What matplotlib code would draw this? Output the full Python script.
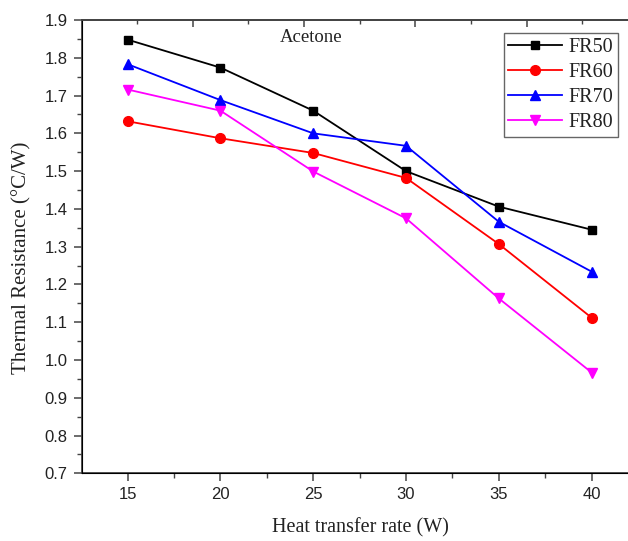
import numpy as np
import matplotlib
matplotlib.use('Agg')
import matplotlib.pyplot as plt
from matplotlib.ticker import MultipleLocator, FixedLocator, NullFormatter

# Heat transfer rate (W) vs thermal resistance (C/W), acetone, several fill ratios
heat_rate = [15, 20, 25, 30, 35, 40]
fr50 = [1.848, 1.774, 1.660, 1.500, 1.406, 1.345]
fr60 = [1.632, 1.587, 1.548, 1.482, 1.307, 1.112]
fr70 = [1.783, 1.688, 1.600, 1.567, 1.366, 1.234]
fr80 = [1.716, 1.660, 1.499, 1.375, 1.163, 0.967]
series_labels = ['FR50', 'FR60', 'FR70', 'FR80']

serif = 'Liberation Serif'
sans = 'Liberation Sans'

fig = plt.figure(figsize=(6.28, 5.41), dpi=100)
ax = fig.add_axes([0.130, 0.125, 0.870, 0.838])

ax.plot(heat_rate, fr50, color='black', marker='s', markersize=6, linewidth=1.3, label=series_labels[0])
ax.plot(heat_rate, fr60, color='#ff0000', marker='o', markersize=7, linewidth=1.3, label=series_labels[1])
ax.plot(heat_rate, fr70, color='#0000ff', marker='^', markersize=7.5, linewidth=1.3, label=series_labels[2])
ax.plot(heat_rate, fr80, color='#ff00ff', marker='v', markersize=7.5, linewidth=1.3, label=series_labels[3])

ax.set_xlim(12.52, 41.96)
ax.set_ylim(0.7, 1.9)
ax.set_xticks(heat_rate)
ax.xaxis.set_minor_locator(MultipleLocator(2.5))
ax.yaxis.set_major_locator(MultipleLocator(0.1))
ax.yaxis.set_minor_locator(MultipleLocator(0.05))
ax.yaxis.set_major_formatter(matplotlib.ticker.FormatStrFormatter('%.1f'))

for s in ['left', 'bottom', 'top']:
    ax.spines[s].set_color('#444444')
    ax.spines[s].set_linewidth(1.3)
ax.spines['right'].set_visible(False)

ax.tick_params(which='major', direction='out', length=6, width=1.1, color='#444444',
               labelsize=12, pad=4, labelcolor='#222222')
ax.tick_params(which='minor', direction='out', length=3.5, width=1.0, color='#444444')
ax.tick_params(right=False, top=False)
for lab in ax.get_xticklabels() + ax.get_yticklabels():
    lab.set_fontfamily(sans)

# top axis with its own inward ticks
top = ax.twiny()
top.set_xlim(ax.get_xlim())
top.xaxis.set_major_locator(FixedLocator([18.5, 24.5, 30.5, 36.5]))
top.xaxis.set_minor_locator(FixedLocator([15.5, 21.5, 27.5, 33.5, 39.5]))
top.xaxis.set_major_formatter(NullFormatter())
top.tick_params(which='major', direction='in', length=5, width=1.1, color='#444444')
top.tick_params(which='minor', direction='in', length=3, width=1.0, color='#444444')
top.spines['right'].set_visible(False)
top.spines['top'].set_color('#444444')
top.spines['top'].set_linewidth(1.3)

fig.text(22 / 628, 1 - 258 / 541, 'Thermal Resistance (°C/W)', rotation=90,
         ha='center', va='center', fontsize=15, family=serif, color='#222222')
fig.text(360 / 628, 1 - 528 / 541, 'Heat transfer rate (W)',
         ha='center', va='center', fontsize=14.5, family=serif, color='#222222')
fig.text(311 / 628, 1 - 38 / 541, 'Acetone',
         ha='center', va='center', fontsize=13.5, family=serif, color='#222222')

handles, labels = ax.get_legend_handles_labels()
leg = fig.legend(handles, labels, loc='upper right', bbox_to_anchor=(617.7 / 628, 1 - 33.3 / 541),
                 bbox_transform=fig.transFigure, borderaxespad=0, fancybox=False,
                 prop={'family': serif, 'size': 14.5}, handlelength=2.7, handletextpad=0.3,
                 labelspacing=0.3, borderpad=0.22, framealpha=1)
leg.get_frame().set_edgecolor('#666666')
leg.get_frame().set_linewidth(1.0)
for t in leg.get_texts():
    t.set_color('#222222')

fig.savefig('out.png', dpi=100)
